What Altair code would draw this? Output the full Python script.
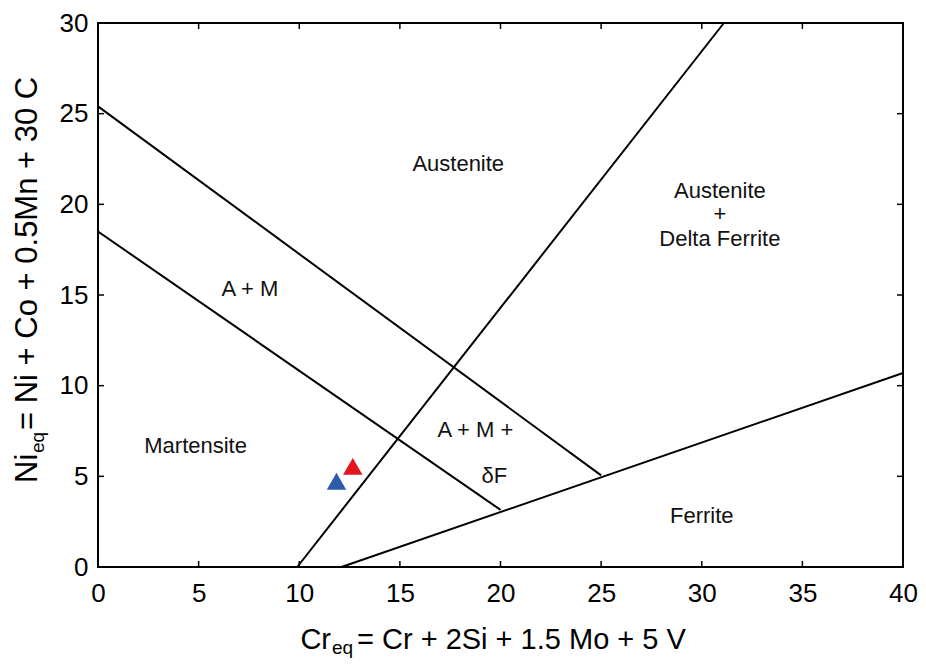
import altair as alt
import pandas as pd

FONT = "Liberation Sans"

# Phase boundary lines (two end points each)
line_id = ["AM_upper", "AM_upper", "AM_lower", "AM_lower", "A_F", "A_F", "F_line", "F_line"]
line_x = [0, 25, 0, 20, 9.9, 31.1, 12.1, 40]
line_y = [25.4, 5.05, 18.5, 3.15, 0, 30, 0, 10.7]

# Region labels
label_text = ["Austenite", "Austenite", "+", "Delta Ferrite", "A + M", "Martensite", "A + M +", "δF", "Ferrite"]
label_x = [17.9, 30.9, 30.9, 30.9, 7.55, 4.85, 18.75, 19.7, 30.0]
label_y = [22.2, 20.72, 19.45, 18.08, 15.35, 6.7, 7.53, 5.0, 2.8]

# Sample points
point_name = ["blue", "red"]
point_x = [11.85, 12.66]
point_y = [4.73, 5.55]
point_color = ["#2c5ca8", "#e3141c"]

x_ticks = [0, 5, 10, 15, 20, 25, 30, 35, 40]
y_ticks = [0, 5, 10, 15, 20, 25, 30]

W, H = 805, 544

lines_df = pd.DataFrame({"seg": line_id, "x": line_x, "y": line_y})
labels_df = pd.DataFrame({"label": label_text, "x": label_x, "y": label_y})
points_df = pd.DataFrame({"name": point_name, "x": point_x, "y": point_y})
xt_df = pd.DataFrame({"t": x_ticks})
yt_df = pd.DataFrame({"t": y_ticks})
one = pd.DataFrame({"a": [0]})

xscale = alt.Scale(domain=[0, 40], nice=False, zero=False)
yscale = alt.Scale(domain=[0, 30], nice=False, zero=False)

xaxis = alt.Axis(values=x_ticks, title=None, ticks=False, domain=False, grid=False,
                 labelFontSize=26, labelFont=FONT, labelColor="black", labelPadding=13,
                 labelFlush=False, labelOverlap=False)
yaxis = alt.Axis(values=y_ticks, title=None, ticks=False, domain=False, grid=False,
                 labelFontSize=26, labelFont=FONT, labelColor="black", labelPadding=10,
                 labelFlush=False, labelOverlap=False)

lines = alt.Chart(lines_df).mark_line(color="black", strokeWidth=2).encode(
    x=alt.X("x:Q", scale=xscale, axis=xaxis),
    y=alt.Y("y:Q", scale=yscale, axis=yaxis),
    detail="seg:N",
)

TL = 6
tick_bottom = alt.Chart(xt_df).mark_rule(color="black", strokeWidth=1.5).encode(
    x=alt.X("t:Q"), y=alt.value(H), y2=alt.value(H - TL))
tick_top = alt.Chart(xt_df).mark_rule(color="black", strokeWidth=1.5).encode(
    x=alt.X("t:Q"), y=alt.value(0), y2=alt.value(TL))
tick_left = alt.Chart(yt_df).mark_rule(color="black", strokeWidth=1.5).encode(
    y=alt.Y("t:Q"), x=alt.value(0), x2=alt.value(TL))
tick_right = alt.Chart(yt_df).mark_rule(color="black", strokeWidth=1.5).encode(
    y=alt.Y("t:Q"), x=alt.value(W), x2=alt.value(W - TL))

labels = alt.Chart(labels_df).mark_text(font=FONT, fontSize=22, color="#111111",
                                        align="center", baseline="middle").encode(
    x="x:Q", y="y:Q", text="label:N")

points = alt.Chart(points_df).mark_point(shape="triangle-up", filled=True, size=380, opacity=1).encode(
    x="x:Q", y="y:Q",
    color=alt.Color("name:N", scale=alt.Scale(domain=point_name, range=point_color), legend=None))

# Axis titles with subscripts
def txt(s, x, y, size, align="left", angle=0):
    kw = dict(font=FONT, fontSize=size, color="black", align=align, baseline="alphabetic")
    if angle:
        kw["angle"] = angle
    return alt.Chart(one).mark_text(**kw).encode(x=alt.value(x), y=alt.value(y), text=alt.value(s))

xt1 = txt("Cr", 233, 626, 29, align="right")
xt2 = txt("eq", 234, 631, 19)
xt3 = txt("= Cr + 2Si + 1.5 Mo + 5 V", 259, 626, 29)

yt1 = txt("Ni", -61, 460, 31, angle=270)
yt2 = txt("eq", -54, 430, 19, angle=270)
yt3 = txt("= Ni + Co + 0.5Mn + 30 C", -61, 407, 31, angle=270)

chart = alt.layer(
    lines, tick_bottom, tick_top, tick_left, tick_right, labels, points,
    xt1, xt2, xt3, yt1, yt2, yt3
).properties(
    width=W, height=H,
    autosize=alt.AutoSizeParams(type="none"),
    padding={"left": 90, "top": 15, "right": 15, "bottom": 91},
).configure_view(stroke="black", strokeWidth=2)

chart.save("out.html", embed_options={"renderer": "svg", "actions": False})
